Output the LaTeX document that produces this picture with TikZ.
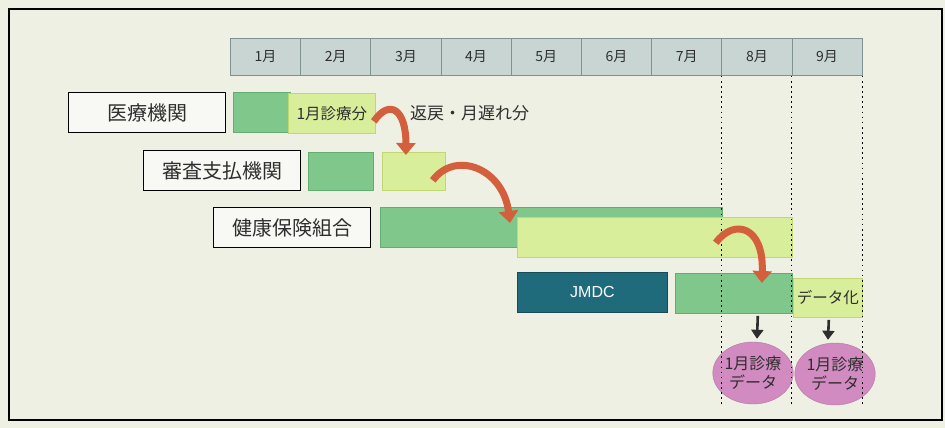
\documentclass[tikz,border=0pt]{standalone}
\usepackage{fontspec}
\setmainfont{Noto Sans CJK JP}
\newfontfamily\latinsans{Liberation Sans}
\usetikzlibrary{arrows.meta,shapes.geometric}
\definecolor{bgc}{HTML}{EEF0E3}
\definecolor{cellfill}{HTML}{C8D5D2}
\definecolor{celledge}{HTML}{7F9190}
\definecolor{dgreen}{HTML}{7FC78B}
\definecolor{dgreenedge}{HTML}{62AD72}
\definecolor{lgreen}{HTML}{D8EE9B}
\definecolor{lgreenedge}{HTML}{C2D672}
\definecolor{teal}{HTML}{1F6B7C}
\definecolor{pinkc}{HTML}{D28BC0}
\definecolor{redarr}{HTML}{D45F3D}
\definecolor{txt}{HTML}{2E2E2E}
\tikzset{
  monthcell/.style={draw=celledge, fill=cellfill, line width=0.8pt, minimum width=70.2pt, minimum height=37pt, inner sep=0pt, anchor=north west, text=txt, font=\fontsize{14}{16}\selectfont},
  lblbox/.style={draw=black, fill=white!60!bgc, line width=1pt, minimum width=157pt, minimum height=40pt, inner sep=0pt, anchor=north west, text=txt, font=\fontsize{20}{24}\selectfont},
  darkbar/.style={draw=dgreenedge, fill=dgreen, line width=0.8pt, inner sep=0pt, anchor=north west},
  lightbar/.style={draw=lgreenedge, fill=lgreen, line width=0.8pt, inner sep=0pt, anchor=north west, text=txt, font=\fontsize{15.5}{17}\selectfont},
  redcurve/.style={draw=redarr, line width=7pt, -{Triangle[length=12pt,width=19pt]}},
  downarrow/.style={draw=txt, line width=2.6pt, -{Triangle[length=9pt,width=12pt]}},
  datablob/.style={ellipse, fill=pinkc, draw=pinkc!85!black, line width=0.4pt, minimum height=62pt, inner sep=0pt, align=center, text=txt, font=\fontsize{16}{19}\selectfont},
  dotline/.style={draw=black, line width=1.7pt, dash pattern=on 1.7pt off 3.4pt}
}
\begin{document}
\begin{tikzpicture}[x=1pt,y=-1pt]
\fill[bgc] (0,0) rectangle (945,428);
\useasboundingbox (0,0) rectangle (945,428);
\draw[line width=1.3pt] (9,9) rectangle (942,420);

% month header
\foreach \i in {1,...,9}{
  \node[monthcell] (m\i) at ({230+70.2*(\i-1)},38) {\i 月};
}

% row 1
\node[lblbox] (iryo) at (68,92) {医療機関};
\node[darkbar, minimum width=57pt, minimum height=40pt] (b1d) at (233,92) {};
\node[lightbar, minimum width=87pt, minimum height=40pt] (b1l) at (288,93) {1月診療分};
\node[anchor=west, text=txt, font=\fontsize{17}{20}\selectfont, inner sep=0pt] (henrei) at (410,113) {返戻・月遅れ分};

% row 2
\node[lblbox] (shinsa) at (143,150) {審査支払機関};
\node[darkbar, minimum width=65pt, minimum height=38pt] (b2d) at (308,152) {};
\node[lightbar, minimum width=63pt, minimum height=38pt] (b2l) at (382,152) {};

% row 3
\node[lblbox] (kenpo) at (213,207) {健康保険組合};
\node[darkbar, minimum width=342pt, minimum height=40pt] (b3d) at (380,207) {};
\node[lightbar, minimum width=275pt, minimum height=40pt] (b3l) at (517,217) {};

% row 4
\node[draw=teal!70!black, fill=teal, line width=0.8pt, minimum width=150pt, minimum height=40pt, inner sep=0pt, anchor=north west, text=white, font=\latinsans\fontsize{16}{18}\selectfont] (jmdc) at (517,272) {JMDC};
\node[darkbar, minimum width=117pt, minimum height=40pt] (b4d) at (675,273) {};
\node[lightbar, minimum width=69pt, minimum height=39pt, inner xsep=0pt] (b4l) at (793,278) {データ化};

% data blobs
\node[datablob, minimum width=74pt] (data1) at (753,373) {1月診療\\データ};
\node[datablob, minimum width=76pt] (data2) at (835,374) {1月診療\\データ};

% dotted month guides
\draw[dotline] (m8.south west) -- ++(0,330);
\draw[dotline] (m9.south west) -- ++(0,330);
\draw[dotline] (m9.south east) -- ++(0,330);

% down arrows
\draw[downarrow] ([xshift=-35pt,yshift=-2pt]b4d.south east) -- ([xshift=4pt,yshift=3pt]data1.north);
\draw[downarrow] ([xshift=-34pt,yshift=-2pt]b4l.south east) -- ([xshift=-7pt,yshift=3pt]data2.north);

% red curved arrows
\draw[redcurve] ([xshift=-2pt,yshift=-8pt]b1l.east) .. controls (390,98) and (406,110) .. ([xshift=-8pt,yshift=-3pt]b2l.north);
\draw[redcurve] ([xshift=-13pt,yshift=-9pt]b2l.east) .. controls (455,150) and (503,168) .. ([xshift=-7pt,yshift=-6pt]b3l.north west);
\draw[redcurve] ([xshift=-7pt,yshift=5pt]b3d.south east) .. controls (734,218) and (764,226) .. ([xshift=-31pt,yshift=-10pt]b4d.north east);
\end{tikzpicture}
\end{document}
